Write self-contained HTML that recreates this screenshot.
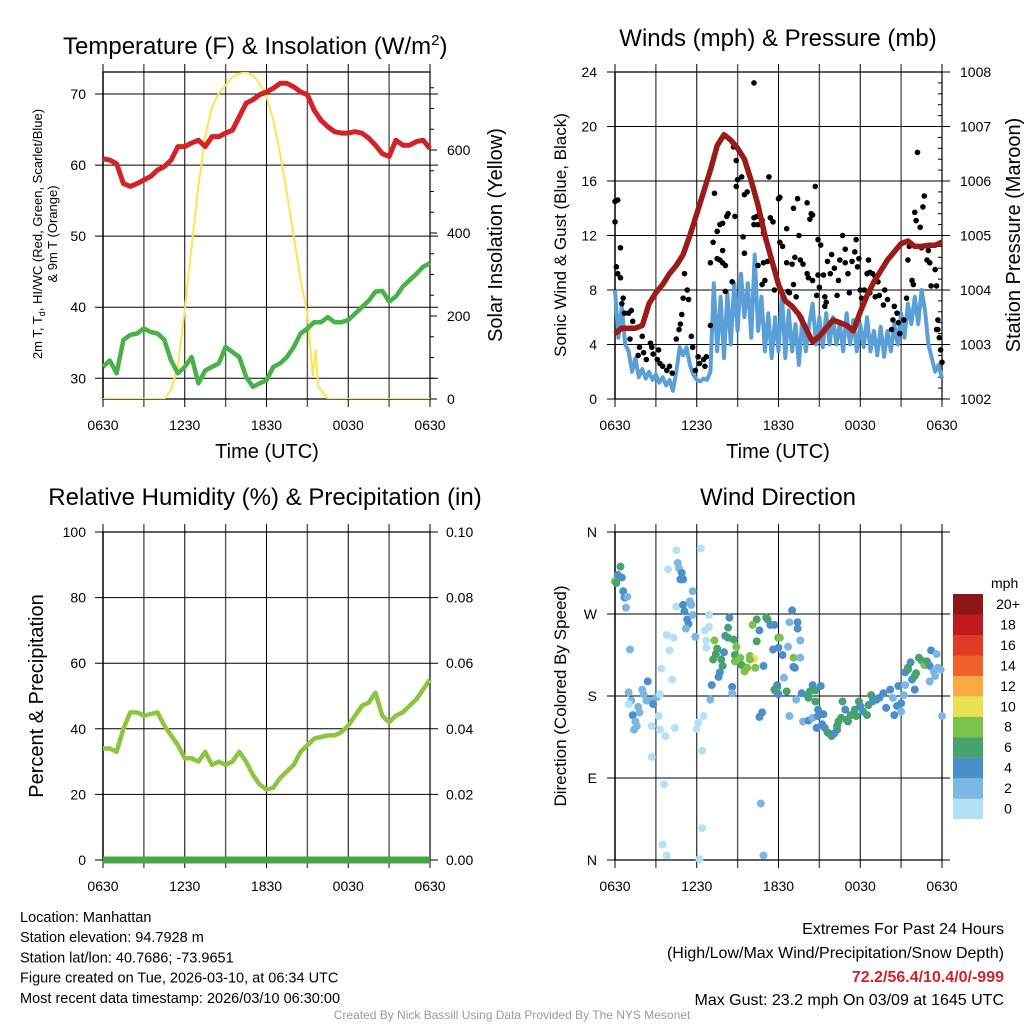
<!DOCTYPE html>
<html><head><meta charset="utf-8"><style>
html,body{margin:0;padding:0;background:#fff;}
svg{display:block;font-family:"Liberation Sans",Arial,sans-serif;}
</style></head><body>
<svg id="c" width="1024" height="1024" viewBox="0 0 1024 1024"></svg>
<script>
// ---------- DATA ----------
const hourTicks = ["0630","1230","1830","0030","0630"];
const tempF = [60.9,60.7,60.2,57.4,57,57.4,57.9,58.4,59.3,59.8,60.7,62.6,62.6,63.1,63.5,62.6,64,64,64.5,64.9,66.8,68.7,69.2,69.9,70.3,70.8,71.5,71.5,71,70.3,69.9,67.7,66.3,65.4,64.7,64.5,64.5,64.7,64.5,63.8,62.8,61.6,61.2,63.5,62.8,62.8,63.3,63.5,62.3];
const dewF = [31.6,32.5,30.7,35.4,36.1,36.3,37,36.5,36.3,35.4,32.5,30.7,31.6,33,29.3,31.1,31.6,32.1,34.4,33.7,33,30.2,28.8,29.3,29.7,31.6,32.1,33,34.4,36.3,37,37.9,37.9,38.6,37.9,37.9,38.2,39.1,40,40.9,42.2,42.3,40.8,41.5,42.9,43.8,44.7,45.7,46.2];
const solarHours = [0,4.5,5,5.5,6,6.5,7,7.5,8,8.5,9,9.5,10,10.5,11,11.5,12,12.5,13,13.5,14,14.5,15,15.4,15.6,15.8,16,16.5,24];
const solarW = [0,0,22,79,215,367,512,632,704,736,756,776,784,788,780,760,728,672,592,496,391,287,207,55,119,30,22,0,0];
const windMph = [8.0,4.5,6.8,4.0,3.5,2.0,3.0,1.6,2.2,1.5,2.0,1.4,1.8,1.2,1.6,1.0,1.4,0.6,2.0,3.8,3.2,3.8,2.5,1.8,1.4,1.3,1.5,1.4,2.0,8.5,3.5,7.5,3.0,7.8,4.0,8.5,5.0,9.2,6.0,8.5,4.5,10.6,5.0,7.5,3.5,6.3,3.0,6.0,3.5,7.8,3.0,6.5,3.5,5.5,2.5,6.0,3.5,5.5,7.0,4.0,6.0,3.8,6.3,4.0,6.0,4.0,5.5,3.5,6.3,4.0,5.8,3.5,5.5,3.8,6.0,3.5,5.0,3.2,5.3,3.1,5.0,3.5,5.5,4.0,6.3,4.5,7.0,5.5,7.5,5.5,8.0,6.5,4.0,3.0,2.0,2.5,1.5];
const gustHours = [0,0,0.2,0.4,0.1,0.2,0.4,0.6,0.5,0.7,1.0,1.2,1.3,1.1,2.0,1.8,1.7,2.1,2.3,2.6,2.7,2.8,3.1,3.2,3.3,3.5,3.8,4.0,4.2,4.5,4.8,4.9,5.0,5.1,5.3,5.4,5.6,5.7,4.7,5.9,6.1,6.2,6.5,6.6,6.7,7.0,7.0,7.2,7.3,7.5,7.7,7.9,8.2,8.3,7.5,7.7,7.9,8.1,7.9,8.1,8.6,8.8,9.4,9.5,8.9,9.0,8.9,9.3,9.5,9.7,10.2,8.7,10.2,10.4,10.8,10.2,10.5,10.9,11.3,11.4,11.6,10.5,10.9,11.2,10.8,11.0,11.7,12.0,12.1,12.6,13.1,13.4,13.5,14.1,14.4,14.5,14.3,14.7,12.1,12.3,12.6,13.0,13.2,13.6,13.8,14.1,14.2,14.5,14.9,15.3,14.9,15.1,12.7,12.8,13.1,13.3,14.8,15.0,15.4,15.4,15.5,15.6,15.8,15.9,16.1,16.3,16.4,16.5,16.7,16.9,16.9,17.1,17.2,17.4,17.6,17.7,17.8,17.9,18.0,18.1,18.3,18.5,18.6,18.7,18.9,19.1,19.3,18.7,19.1,19.4,19.7,20.0,19.8,20.5,20.7,20.4,20.8,20.3,20.9,21.2,21.4,21.6,21.5,22.0,22.1,22.4,22.2,22.6,22.7,21.8,21.9,22.5,22.9,23.0,23.1,23.5,23.2,23.6,23.7,23.7,23.8,23.9,24.0,23.6];
const gustMph = [13.0,14.5,14.6,11.1,9.7,9.2,8.9,7.4,7.0,6.3,6.3,6.5,5.7,4.4,4.6,3.8,3.2,3.4,2.9,4.1,3.8,3.3,2.9,3.6,2.6,2.4,2.1,2.4,1.9,4.4,5.5,6.2,7.4,9.2,8.0,7.3,4.6,3.8,5.1,2.1,3.1,2.6,2.9,2.4,3.1,5.4,10.0,11.5,15.1,12.3,12.8,12.9,13.4,13.6,10.3,10.2,10.0,9.8,10.9,7.9,8.6,13.4,11.9,10.7,15.6,16.1,17.5,16.3,15.0,15.2,23.2,18.5,13.3,13.4,13.1,12.8,12.8,12.2,16.3,13.3,13.0,9.8,10.0,10.1,8.4,8.7,8.0,14.7,14.8,12.5,14.0,14.7,12.0,14.4,13.6,13.5,13.2,15.6,11.5,11.2,10.0,9.9,10.4,10.2,9.9,9.2,8.9,8.7,9.1,9.1,11.7,11.3,7.9,7.8,8.4,7.5,7.6,8.2,7.5,6.8,7.1,10.1,9.2,10.6,9.6,7.6,8.7,10.2,12.0,10.0,11.0,9.2,7.8,10.1,10.8,11.7,9.7,10.3,8.0,7.4,8.0,9.2,10.2,9.3,9.2,9.0,8.6,7.8,7.5,7.6,6.9,7.3,8.0,6.8,6.3,5.8,5.6,5.1,4.8,5.8,7.4,11.2,10.2,13.7,13.1,12.6,18.1,14.1,14.9,8.7,8.4,11.1,10.2,10.9,10.0,9.5,8.3,8.3,5.8,5.1,4.5,3.6,2.7,5.1];
const pressMb = [1003.2,1003.3,1003.3,1003.3,1003.35,1003.75,1003.95,1004.1,1004.3,1004.45,1004.65,1005.0,1005.4,1005.8,1006.2,1006.65,1006.85,1006.75,1006.6,1006.4,1006.0,1005.55,1005.0,1004.55,1004.1,1003.8,1003.7,1003.55,1003.3,1003.05,1003.15,1003.3,1003.45,1003.4,1003.35,1003.25,1003.6,1003.9,1004.15,1004.35,1004.55,1004.7,1004.85,1004.9,1004.8,1004.8,1004.82,1004.82,1004.88];
const rhPct = [34,34,33,40,45,45,44,44.5,45,41,38,35,31,31,30,33,29,30,29,30,33,30,26,23,21.5,22,25,27,29,33,35,37,37.5,38,38,39,41,44,47,48,51,44,42,44,45,47,49,52,55];
const precipIn = [0,0,0,0,0,0,0,0,0,0,0,0,0,0,0,0,0,0,0,0,0,0,0,0,0,0,0,0,0,0,0,0,0,0,0,0,0,0,0,0,0,0,0,0,0,0,0,0,0];
const dirHours = [0.4,0,0.1,0.2,0.5,0.6,0.7,0.9,0.8,1.1,
 2.4,2.0,2.1,2.3,2.6,2.8,3.1,3.3,1.0,1.2,1.0,1.7,1.8,1.3,1.5,1.6,1.4,3.2,2.7,3.3,3.7,4.4,2.7,
 3.4,4.2,4.0,3.8,4.3,4.5,3.9,4.5,3.6,3.5,3.8,
 4.6,4.7,4.9,4.8,5.0,5.7,5.5,5.6,5.0,5.1,5.3,5.4,5.2,5.9,5.7,
 6.3,6.9,6.9,6.6,6.7,6.7,6.5,6.1,6.0,6.4,6.4,6.2,
 7.3,7.5,7.4,7.2,7.8,7.9,7.7,7.6,7.1,8.0,8.1,8.3,8.7,8.9,8.8,8.8,9.2,9.3,9.5,9.7,9.9,10.2,10.3,9.9,8.3,8.4,10.4,10.1,10.6,10.4,10.9,11.1,11.4,11.2,8.6,8.6,10.8,10.6,10.7,10.9,7.0,11.6,12.0,11.9,11.8,
 13.0,12.8,13.4,13.4,12.1,11.7,13.6,12.7,12.0,12.3,13.1,13.6,13.1,13.2,12.4,11.9,11.7,12.6,12.0,13.3,12.8,
 13.7,14.1,14.3,14.5,14.7,15.1,14.2,14.7,
 14.9,15.3,13.8,14.2,14.5,14.9,15.2,14.8,15.4,15.6,15.8,15.9,16.1,16.3,16.3,16.4,16.6,16.7,16.9,17.0,17.1,17.3,17.6,17.7,17.9,18.0,18.2,18.5,18.6,18.8,18.9,19.2,19.4,19.7,19.9,20.2,20.4,20.5,20.7,20.8,21.0,21.0,21.2,21.3,21.5,21.3,21.7,21.5,21.8,22.0,22.1,22.0,22.3,22.5,22.7,22.9,23.1,23.2,23.6,23.4,23.5,23.1,23.7,23.9,24.0];
const dirDeg = [322,306,304,313,310,295,288,289,277,231,
 196,187,182,175,175,171,179,182,184,175,171,168,162,159,152,147,143,158,147,143,136,145,113,
 210,198,230,247,244,340,319,278,83,17,5,
 326,320,315,308,308,295,284,280,280,273,264,259,254,245,269,
 342,269,256,252,241,233,158,151,144,120,35,1,
 241,232,226,220,220,213,206,201,192,228,246,244,242,234,225,218,222,214,207,211,224,221,211,220,255,266,264,258,252,240,213,266,258,264,190,183,162,157,62,5,176,231,244,189,185,
 274,261,261,254,244,258,241,234,233,225,222,222,212,211,200,192,187,185,182,176,158,
 183,181,185,192,186,191,178,174,
 165,160,152,153,156,158,149,145,145,140,138,136,139,143,147,152,156,174,165,154,152,159,165,158,174,169,163,159,170,181,174,176,178,183,167,187,178,159,169,191,163,172,181,192,209,206,217,211,198,187,205,202,222,219,214,218,213,230,226,207,202,196,211,209,158];
const dirSpeed = [6,8,6,4,4,4,4,2,2,2,
 4,2,2,2,2,4,2,0,2,2,0,2,2,4,2,2,2,0,0,0,0,0,0,
 0,0,0,0,0,0,0,0,0,0,0,
 2,2,4,4,4,2,2,2,4,4,4,4,2,2,2,
 0,0,0,0,0,0,0,0,0,0,0,0,
 8,6,6,6,6,6,4,4,4,4,4,6,6,8,6,8,8,6,8,8,8,10,8,8,6,4,6,8,4,6,4,6,4,6,4,2,4,4,2,2,2,4,6,6,2,
 4,2,4,4,8,4,2,2,4,4,8,2,4,4,2,4,6,6,4,2,2,
 4,4,6,4,6,4,6,6,
 4,4,2,4,2,4,4,4,4,6,6,6,4,4,6,6,6,6,4,6,6,6,6,6,6,4,4,6,6,6,4,4,4,4,4,4,2,4,4,4,2,4,2,2,4,4,4,6,4,4,6,6,6,6,8,6,4,4,2,2,2,2,2,2,2];
const speedBins = ["0","2","4","6","8","10","12","14","16","18","20+"];
const binColors = ["#b5e1f7","#7ab8e3","#4b8fc8","#45a36b","#7cc24a","#e8e154","#f7a944","#f0622a","#de3a26","#c0191f","#8e1518"];

// ---------- HELPERS ----------
const NS="http://www.w3.org/2000/svg";
const svg=document.getElementById('c');
function el(tag,attrs,parent){const e=document.createElementNS(NS,tag);for(const k in attrs)e.setAttribute(k,attrs[k]);(parent||svg).appendChild(e);return e;}
function txt(s,x,y,size,anchor,extra,parent){const t=el('text',Object.assign({x:x,y:y,'font-size':size,'text-anchor':anchor||'start',fill:'#000'},extra||{}),parent);t.textContent=s;return t;}
function lin(a,b,c,d){return v=>c+(v-a)*(d-c)/(b-a);}

function frame(x0,x1,y0,y1,yTicks,yScale,name){
  const g=el('g',{});
  
  
  for(let h=0;h<=24;h+=3){const x=x0+(x1-x0)*h/24;el('line',{x1:x,y1:y0-8,x2:x,y2:y1+8,stroke:(h%6==0)?'#000':'#555','stroke-width':h%6==0?1:1.4},g);}
  yTicks.forEach(v=>{const y=yScale(v);el('line',{x1:x0-8,y1:y,x2:x1+8,y2:y,stroke:'#000','stroke-width':1},g);});
  el('line',{x1:x0,y1:y0,x2:x1,y2:y0,stroke:'#000','stroke-width':1.2},g);
  el('line',{x1:x0,y1:y1,x2:x1,y2:y1,stroke:'#000','stroke-width':1.2},g);
  el('line',{x1:x0,y1:y0,x2:x0,y2:y1,stroke:'#000','stroke-width':1.5},g);
  el('line',{x1:x1,y1:y0,x2:x1,y2:y1,stroke:'#000','stroke-width':1.2},g);
  hourTicks.forEach((s,i)=>{const t=txt(s,x0+(x1-x0)*i/4,430+(y1-399),14,'middle');});
  return g;
}
function pathFrom(xs,ys,xS,yS){return xs.map((h,i)=>(i?'L':'M')+xS(h).toFixed(1)+','+yS(ys[i]).toFixed(1)).join('');}
const halfHours=tempF.map((_,i)=>i*0.5);
const qHours=windMph.map((_,i)=>i*0.25);

// ---------- PANEL 1 ----------
{
 const x0=103,x1=430,y0=72,y1=399;
 const X=lin(0,24,x0,x1), Y=lin(30,70,378.3,94), YS=lin(0,600,399,150);
 frame(x0,x1,y0,y1,[30,40,50,60,70],Y,'temp-panel');
 [30,40,50,60,70].forEach(v=>{const t=txt(v,86,Y(v)+5,14,'end');});
 [0,200,400,600].forEach(v=>{el('line',{x1:x1,y1:YS(v),x2:x1+7,y2:YS(v),stroke:'#000'});const t=txt(v,447,YS(v)+5,14,'start');});
 for(let v=50;v<=750;v+=50){if(v%200)el('line',{x1:x1,y1:YS(v),x2:x1+4,y2:YS(v),stroke:'#000'});}
 const cp=el('clipPath',{id:'cp1'});el('rect',{x:x0,y:y0,width:x1-x0,height:y1-y0},cp);
 const s=el('path',{d:pathFrom(solarHours,solarW,X,YS),fill:'none',stroke:'#fde64b','stroke-width':2,'clip-path':'url(#cp1)'});
 
 const r=el('path',{d:pathFrom(halfHours,tempF,X,Y),fill:'none',stroke:'#d42328','stroke-width':5,'stroke-linejoin':'round'});
 
 const g=el('path',{d:pathFrom(halfHours,dewF,X,Y),fill:'none',stroke:'#47b247','stroke-width':4.5,'stroke-linejoin':'round'});
 
 const t1=txt('Temperature (F) & Insolation (W/m',63,54,24,'start');
 const sup=el('tspan',{dy:-9,'font-size':15});sup.textContent='2';t1.appendChild(sup);const cl=el('tspan',{dy:9});cl.textContent=')';t1.appendChild(cl);
 const xl=txt('Time (UTC)',267,458,20,'middle');
 const yl=el('text',{transform:'translate(42,234) rotate(-90)','font-size':13,'text-anchor':'middle'});
 yl.innerHTML='2m T, T<tspan font-size="9" dy="3">d</tspan><tspan dy="-3">, HI/WC (Red, Green, Scarlet/Blue)</tspan>';
 const yl2=txt('& 9m T (Orange)',0,0,13,'middle',{transform:'translate(57,234) rotate(-90)'});
 const yr=txt('Solar Insolation (Yellow)',0,0,20,'middle',{transform:'translate(502,235) rotate(-90)'});
}
// ---------- PANEL 2 ----------
{
 const x0=615,x1=942,y0=72,y1=399;
 const X=lin(0,24,x0,x1), Y=lin(0,24,399,72), YP=lin(1002,1008,399,72);
 frame(x0,x1,y0,y1,[0,4,8,12,16,20,24],Y,'wind-panel');
 [0,4,8,12,16,20,24].forEach(v=>{const t=txt(v,597,Y(v)+5,14,'end');});
 [1002,1003,1004,1005,1006,1007,1008].forEach(v=>{const t=txt(v,960,YP(v)+5,14,'start');});
 for(let v=1002.2;v<1008;v+=0.2){el('line',{x1:x1,y1:YP(v),x2:x1-4,y2:YP(v),stroke:'#000'});}
 const b=el('path',{d:pathFrom(qHours,windMph,X,Y),fill:'none',stroke:'#5a9fd6','stroke-width':4,'stroke-linejoin':'round'});
 
 gustHours.forEach((h,i)=>{const c=el('circle',{cx:X(h),cy:Y(gustMph[i]),r:2.8,fill:'#000'});
  
  });
 const p=el('path',{d:pathFrom(halfHours,pressMb,X,YP),fill:'none',stroke:'#9b1a1a','stroke-width':5.5,'stroke-linejoin':'round'});
 
 const t=txt('Winds (mph) & Pressure (mb)',778,46,24,'middle');
 const xl=txt('Time (UTC)',778,458,20,'middle');
 const yl=txt('Sonic Wind & Gust (Blue, Black)',0,0,17,'middle',{transform:'translate(566,235) rotate(-90)'});
 const yr=txt('Station Pressure (Maroon)',0,0,20,'middle',{transform:'translate(1020,235) rotate(-90)'});
}
// ---------- PANEL 3 ----------
{
 const x0=103,x1=430,y0=532,y1=860;
 const X=lin(0,24,x0,x1), Y=lin(0,100,860,532), YR=lin(0,0.1,860,532);
 frame(x0,x1,y0,y1,[0,20,40,60,80,100],Y,'rh-panel');
 [0,20,40,60,80,100].forEach(v=>{const t=txt(v,86,Y(v)+5,14,'end');});
 [0,0.02,0.04,0.06,0.08,0.1].forEach(v=>{const t=txt(v.toFixed(2),446,YR(v)+5,14,'start');});
 const r=el('path',{d:pathFrom(halfHours,rhPct,X,Y),fill:'none',stroke:'#8cc63f','stroke-width':4.5,'stroke-linejoin':'round'});
 
 const pr=el('path',{d:pathFrom(halfHours,precipIn,X,YR),fill:'none',stroke:'#45a845','stroke-width':7});
 
 const t=txt('Relative Humidity (%) & Precipitation (in)',265,505,24,'middle');
 const yl=txt('Percent & Precipitation',0,0,20,'middle',{transform:'translate(43,696) rotate(-90)'});
}
// ---------- PANEL 4 ----------
{
 const x0=615,x1=942,y0=532,y1=860;
 const X=lin(0,24,x0,x1), Y=lin(0,360,860,532);
 frame(x0,x1,y0,y1,[0,90,180,270,360],Y,'direction-panel');
 [['N',360],['W',270],['S',180],['E',90],['N',0]].forEach(a=>{const t=txt(a[0],597,Y(a[1])+5,14,'end');});
 dirHours.forEach((h,i)=>{const bin=Math.min(10,Math.floor(dirSpeed[i]/2));
  const c=el('circle',{cx:X(h),cy:Y(dirDeg[i]),r:4,fill:binColors[bin]});
  
  });
 const t=txt('Wind Direction',778,505,24,'middle');
 const yl=txt('Direction (Colored By Speed)',0,0,17,'middle',{transform:'translate(566,696) rotate(-90)'});
 const lg=el('g',{});
 const mt=txt('mph',991,588,14,'start',{},lg);
 speedBins.forEach((s,i)=>{const yy=594+(10-i)*20.45;
  const rc=el('rect',{x:953,y:yy,width:30,height:20.6,fill:binColors[i]},lg);
  
  
  const tl=txt(s,1008,yy+15,14,'middle',{},lg);
  
  });
}
// ---------- TEXT BLOCKS ----------
{
 const g=el('g',{});
 ['Location: Manhattan','Station elevation: 94.7928 m','Station lat/lon: 40.7686; -73.9651','Figure created on Tue, 2026-03-10, at 06:34 UTC','Most recent data timestamp: 2026/03/10 06:30:00'].forEach((s,i)=>txt(s,20,922+i*20.2,14.5,'start',{},g));
 const r=el('g',{});
 txt('Extremes For Past 24 Hours',1004,934,16,'end',{},r);
 txt('(High/Low/Max Wind/Precipitation/Snow Depth)',1004,958,16,'end',{},r);
 txt('72.2/56.4/10.4/0/-999',1004,982,16,'end',{fill:'#d42328','font-weight':'bold'},r);
 txt('Max Gust: 23.2 mph On 03/09 at 1645 UTC',1004,1005,16,'end',{},r);
 const f=txt('Created By Nick Bassill Using Data Provided By The NYS Mesonet',512,1019,12,'middle',{fill:'#999'});
 
}
</script>
</body></html>
